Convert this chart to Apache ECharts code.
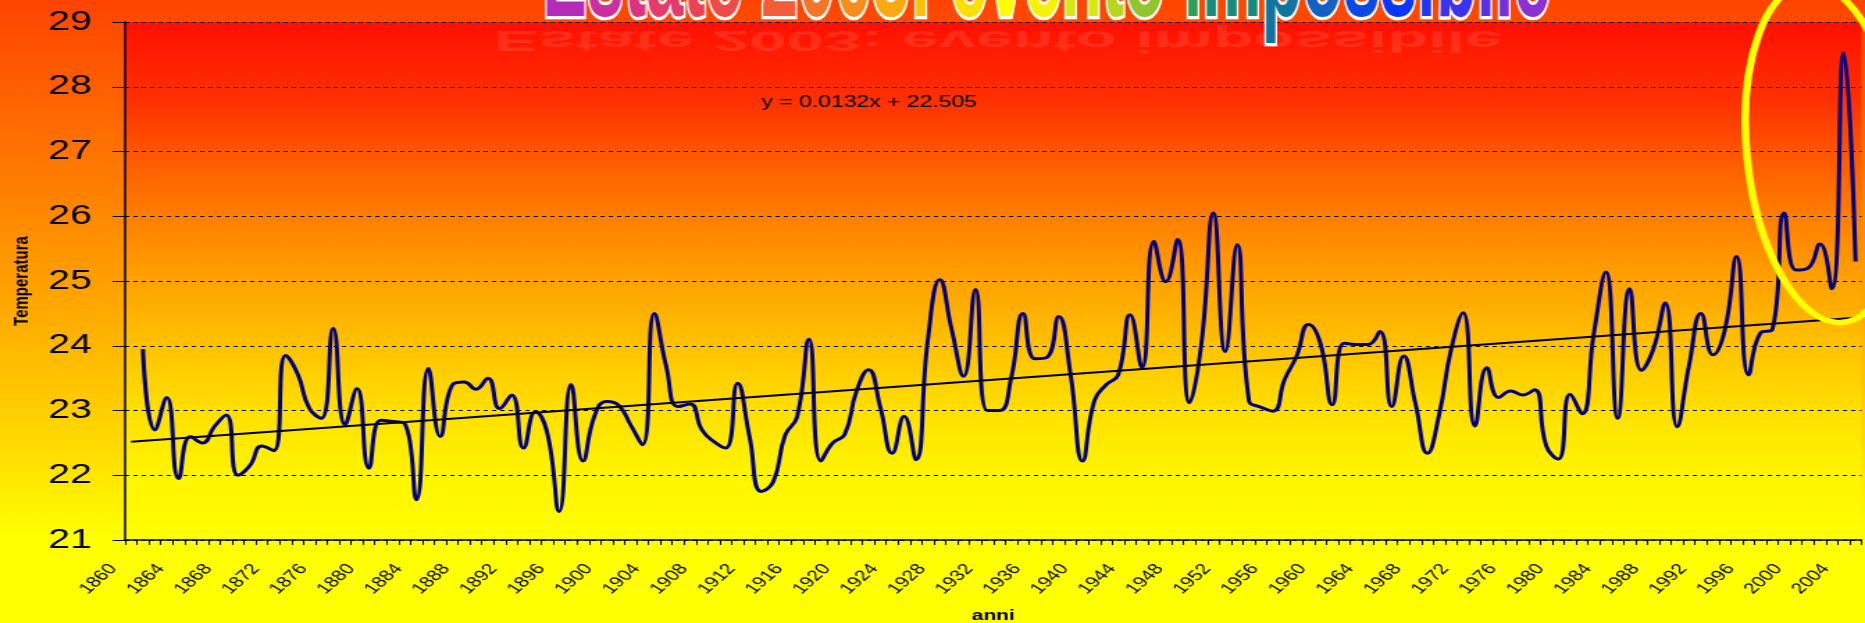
<!DOCTYPE html>
<html>
<head>
<meta charset="utf-8">
<title>Estate 2003: evento impossibile</title>
<script src="https://cdn.jsdelivr.net/npm/echarts@6/dist/echarts.min.js"></script>
<style>
  html, body { margin: 0; padding: 0; overflow: hidden; background: #ffff00; }
  /* the source picture is an Excel chart stretched sideways: draw it narrow, then widen it */
  #chart { width: 1342px; height: 623px; transform: scaleX(1.38972); transform-origin: 0 0; }
</style>
</head>
<body>
<div id="chart"></div>
<script>
const firstYear = 1860
const lastYear = 2005

// summer temperature, one value per year (1860 has no value)
const tempValues = [
  null, 23.95, 22.7, 23.2, 21.95, 22.6, 22.5, 22.75, 22.93, 22.0,     // 1860
  22.15, 22.45, 22.38, 23.85, 23.57, 23.03, 22.88, 24.27, 22.78, 23.34, // 1870
  22.11, 22.85, 22.83, 22.8, 21.62, 23.65, 22.6, 23.39, 23.44, 23.33,   // 1880
  23.5, 23.03, 23.24, 22.42, 22.98, 22.65, 21.44, 23.4, 22.22, 22.93,   // 1890
  23.14, 23.08, 22.78, 22.47, 24.5, 23.68, 23.06, 23.1, 22.7, 22.52,    // 1900
  22.42, 23.42, 22.6, 21.75, 21.9, 22.62, 22.9, 24.1, 22.22, 22.5,      // 1910
  22.63, 23.3, 23.63, 23.05, 22.34, 22.91, 22.24, 24.1, 25.02, 24.25,   // 1920
  23.53, 24.87, 23.0, 23.0, 23.5, 24.5, 23.8, 23.82, 24.45, 23.55,      // 1930
  22.22, 23.15, 23.4, 23.55, 24.48, 23.66, 25.61, 24.99, 25.64, 23.12,  // 1940
  24.04, 26.05, 23.91, 25.56, 23.15, 23.05, 22.99, 23.48, 23.84, 24.33, // 1950
  24.04, 23.09, 24.04, 24.02, 24.02, 24.22, 23.06, 23.84, 23.1, 22.34,  // 1960
  22.95, 23.95, 24.51, 22.76, 23.66, 23.2, 23.3, 23.24, 23.32, 22.45,   // 1970
  22.25, 23.25, 22.95, 24.2, 25.14, 22.88, 24.88, 23.62, 23.95, 24.66,  // 1980
  22.75, 23.7, 24.5, 23.86, 24.24, 25.38, 23.55, 24.2, 24.25, 26.05,    // 1990
  25.17, 25.2, 25.57, 24.88, 28.52, 25.3                                // 2000
]

// Excel linear trendline, x = 1 for the first category
const trendSlope = 0.0132
const trendIntercept = 22.505

const yMin = 21
const yMax = 29
const yStep = 1

const titleText = 'Estate 2003: evento impossibile'
const titleColors = [
  '#b52ab8', '#cc2f9c', '#dc3380', '#e63a6a', '#ec4256', '#f04a48', '#f04a48',
  '#f25c38', '#f4742a', '#f68e1e', '#f9aa12', '#fbc00a', '#fbc00a',
  '#fde000', '#ffff00', '#f4f400', '#d6e810', '#b8d620', '#90c430', '#90c430',
  '#2ca058', '#148c7c', '#1074a0', '#1460c4', '#0c48e4', '#0a36fc',
  '#2234f4', '#3c32ec', '#5630e4', '#7030da', '#8c30d0'
]

const years = []
for (let y = firstYear; y <= lastYear; y++) years.push(String(y))

const trendValues = years.map(() => null)
trendValues[0] = +(trendIntercept + trendSlope * 1).toFixed(4)
trendValues[years.length - 1] = +(trendIntercept + trendSlope * years.length).toFixed(4)

const rich = {}
let richText = ''
titleText.split('').forEach((ch, i) => {
  rich['c' + i] = {
    fill: titleColors[i],
    stroke: '#ffffff',
    lineWidth: 2.5,
    fontSize: 48,
    fontWeight: 'bold',
    fontFamily: 'Liberation Sans'
  }
  richText += '{c' + i + '|' + ch + '}'
})

const chart = echarts.init(document.getElementById('chart'), null, { renderer: 'canvas' })

chart.setOption({
  animation: false,
  backgroundColor: new echarts.graphic.LinearGradient(0, 0, 0, 1, [
    { offset: 0, color: '#ff4400' },
    { offset: 0.25, color: '#ff7400' },
    { offset: 0.5, color: '#ffaa00' },
    { offset: 0.72, color: '#ffdc00' },
    { offset: 0.86, color: '#ffff00' },
    { offset: 1, color: '#ffff00' }
  ]),
  grid: {
    show: true,
    left: 90,
    right: 2.5,
    top: 22,
    bottom: 83,
    outerBoundsMode: 'none',
    containLabel: false,
    borderWidth: 0,
    backgroundColor: new echarts.graphic.LinearGradient(0, 0, 0, 1, [
      { offset: 0, color: '#ff1000' },
      { offset: 0.15, color: '#ff3000' },
      { offset: 0.27, color: '#ff5c00' },
      { offset: 0.38, color: '#ff8000' },
      { offset: 0.5, color: '#ffa200' },
      { offset: 0.625, color: '#ffc200' },
      { offset: 0.75, color: '#ffe000' },
      { offset: 0.875, color: '#fff500' },
      { offset: 1, color: '#ffff00' }
    ])
  },
  xAxis: {
    type: 'category',
    data: years,
    boundaryGap: true,
    name: 'anni',
    nameLocation: 'middle',
    nameGap: 68,
    nameMoveOverlap: false,
    nameTextStyle: { color: '#000', fontSize: 15, fontWeight: 'bold', fontFamily: 'Liberation Sans' },
    axisLine: { show: true, lineStyle: { color: '#000', width: 1.5 } },
    axisTick: { show: true, interval: 0, alignWithLabel: false, inside: false, length: 5, lineStyle: { color: '#000' } },
    axisLabel: {
      interval: 3,
      rotate: 50,
      margin: 11,
      padding: [0, 20, 0, 0],
      color: '#000',
      fontSize: 15,
      fontFamily: 'Liberation Sans'
    },
    splitLine: { show: false }
  },
  yAxis: {
    type: 'value',
    min: yMin,
    max: yMax,
    interval: yStep,
    name: 'Temperatura',
    nameLocation: 'middle',
    nameGap: 67,
    nameMoveOverlap: false,
    nameTextStyle: { color: '#000', fontSize: 15, fontWeight: 'bold', fontFamily: 'Liberation Sans' },
    axisLine: { show: true, lineStyle: { color: '#000', width: 1.5 } },
    axisTick: { show: true, inside: false, length: 9, lineStyle: { color: '#000' } },
    axisLabel: { color: '#000', fontSize: 28, margin: 24, fontFamily: 'Liberation Sans' },
    splitLine: { show: true, lineStyle: { color: '#000', type: [3, 3], width: 1 } }
  },
  series: [
    {
      name: 'Temperatura',
      type: 'line',
      data: tempValues,
      smooth: 0.5,
      showSymbol: false,
      lineStyle: { color: '#000080', width: 3 },
      itemStyle: { color: '#000080' },
      z: 2
    },
    {
      name: 'Lineare',
      type: 'line',
      data: trendValues,
      connectNulls: true,
      showSymbol: false,
      lineStyle: { color: '#000', width: 2 },
      itemStyle: { color: '#000' },
      z: 3
    }
  ],
  graphic: [
    {
      // faint blurred reflection under the title
      type: 'text',
      x: 718,
      y: 25,
      scaleY: -0.6,
      z: 50,
      style: {
        text: titleText,
        align: 'center',
        verticalAlign: 'bottom',
        fill: 'rgba(255,255,255,0.1)',
        fontSize: 48,
        fontWeight: 'bold',
        fontFamily: 'Liberation Sans',
        shadowBlur: 14,
        shadowColor: 'rgba(255,255,255,0.6)'
      }
    },
    {
      type: 'text',
      x: 753,
      y: 45,
      scaleY: 2.69,
      z: 60,
      style: {
        text: richText,
        rich: rich,
        align: 'center',
        verticalAlign: 'bottom',
        fontSize: 48,
        fontWeight: 'bold',
        fontFamily: 'Liberation Sans'
      }
    },
    {
      type: 'text',
      x: 548,
      y: 102,
      z: 60,
      style: {
        text: 'y = ' + trendSlope + 'x + ' + trendIntercept,
        align: 'left',
        verticalAlign: 'middle',
        fill: '#000',
        fontSize: 16.5,
        fontFamily: 'Liberation Sans'
      }
    },
    {
      type: 'ellipse',
      x: 1313,
      y: 153,
      rotation: 0.07,
      z: 70,
      shape: { cx: 0, cy: 0, rx: 56, ry: 170 },
      style: { fill: 'rgba(0,0,0,0)', stroke: '#ffff00', lineWidth: 5.5 }
    }
  ]
})
</script>
</body>
</html>
